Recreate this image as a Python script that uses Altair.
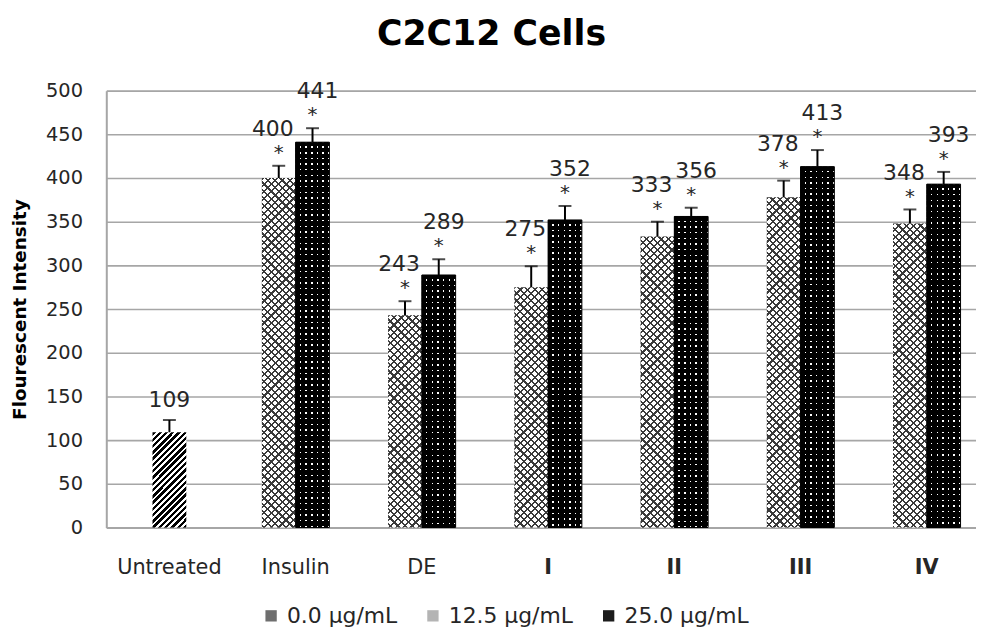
import math
import altair as alt
import pandas as pd

# ---------------- data ----------------
categories = ["Untreated", "Insulin", "DE", "I", "II", "III", "IV"]
series_names = ["0.0 μg/mL", "12.5 μg/mL", "25.0 μg/mL"]
series_colors = ["#6e6e6e", "#b4b4b4", "#1c1c1c"]

untreated_value = [109]
untreated_err = [14]

treated_groups = ["Insulin", "DE", "I", "II", "III", "IV"]
values_12_5 = [400, 243, 275, 333, 378, 348]
errors_12_5 = [14, 16, 24, 17, 19, 16]
values_25_0 = [441, 289, 352, 356, 413, 393]
errors_25_0 = [16, 18, 16, 10, 19, 14]

y_ticks = [0, 50, 100, 150, 200, 250, 300, 350, 400, 450, 500]

# ---------------- layout constants (style only) ----------------
PLOT_W, PLOT_H, X_RANGE = 876, 440, 890
PAD_INNER = 0.465
BAR_W = X_RANGE / len(categories) * (1 - PAD_INNER) / 2
PX_PER_UNIT = PLOT_H / 500


# ---------------- texture helpers (fill gradients) ----------------
def stripe_stops(n_periods, on_frac, c_on, c_off):
    out = []
    for k in range(int(math.ceil(n_periods))):
        s = k / n_periods
        m = min((k + on_frac) / n_periods, 1.0)
        e = min((k + 1) / n_periods, 1.0)
        out += [{"offset": s, "color": c_on}, {"offset": m, "color": c_on},
                {"offset": m, "color": c_off}, {"offset": e, "color": c_off}]
    return out


def diag_gradient(h, period, on_frac, c_on, c_off, rising=True):
    r = h / BAR_W
    s = (1 + r) / (1 + r * r)
    n = (BAR_W + h) / (math.sqrt(2) * period)
    g = {"gradient": "linear", "stops": stripe_stops(n, on_frac, c_on, c_off)}
    if rising:
        g.update(x1=0, y1=0, x2=s, y2=s * r)
    else:
        g.update(x1=1, y1=0, x2=1 - s, y2=s * r)
    return g


def horiz_gradient(h, period, on_frac, c_on, c_off):
    return {"gradient": "linear", "x1": 0, "y1": 0, "x2": 0, "y2": 1,
            "stops": stripe_stops(h / period, on_frac, c_on, c_off)}


CLEAR = "rgba(255,255,255,0)"

# ---------------- tables ----------------
untreated_df = pd.DataFrame({
    "cat": ["Untreated"],
    "series": [series_names[0]],
    "value": untreated_value,
    "err": untreated_err,
})
untreated_df["top"] = untreated_df["value"] + untreated_df["err"]
untreated_df["label"] = untreated_df["value"].astype(str)

records = []
for g, v, e in zip(treated_groups, values_12_5, errors_12_5):
    h = v * PX_PER_UNIT
    records.append({
        "cat": g, "series": series_names[1], "value": v, "err": e, "top": v + e, "label": str(v),
        "g1": diag_gradient(h, 5.2, 0.3, "#3a3a3a", CLEAR, rising=True),
        "g2": diag_gradient(h, 5.2, 0.3, "#3a3a3a", CLEAR, rising=False),
    })
for g, v, e in zip(treated_groups, values_25_0, errors_25_0):
    h = v * PX_PER_UNIT
    records.append({
        "cat": g, "series": series_names[2], "value": v, "err": e, "top": v + e, "label": str(v),
        "g1": horiz_gradient(h, 5.7, 0.74, "#000000", CLEAR),
        "g2": horiz_gradient(h, 5.7, 0.74, "#000000", CLEAR),
    })
treated_data = alt.Data(values=records)

hatch = {"gradient": "linear", "x1": 0, "y1": 0, "x2": 1, "y2": 2.81,
         "stops": stripe_stops(48, 0.55, "#000000", "#ffffff")}
dot_columns = {"gradient": "linear", "x1": 0, "y1": 0, "x2": 1, "y2": 0,
               "stops": stripe_stops(6, 0.74, "#000000", "#ffffff")}

label_font = "DejaVu Sans"
text_color = "#262626"

x_enc = alt.X(
    "cat:N",
    sort=categories,
    scale=alt.Scale(domain=categories, range=[0, X_RANGE], paddingInner=PAD_INNER, paddingOuter=PAD_INNER / 2),
    axis=alt.Axis(
        title=None,
        labelAngle=0,
        ticks=False,
        labelPadding=29,
        labelFont=label_font,
        labelFontSize=21,
        labelColor=text_color,
        labelFontWeight={
            "condition": {"test": "indexof(['I','II','III','IV'], datum.value) >= 0", "value": "bold"},
            "value": "normal",
        },
        domainColor="#a6a6a6",
        domainWidth=2,
        grid=False,
    ),
)
y_enc = alt.Y(
    "value:Q",
    scale=alt.Scale(domain=[0, 500], nice=False),
    axis=alt.Axis(
        values=y_ticks,
        title="Flourescent Intensity",
        titleFont=label_font,
        titleFontSize=18.5,
        titleFontWeight="bold",
        titleColor="#000000",
        titleAngle=270,
        titleX=-87,
        titleY=220,
        titleAlign="center",
        titleBaseline="middle",
        ticks=False,
        labelFont=label_font,
        labelFontSize=19.5,
        labelColor=text_color,
        labelPadding=24,
        grid=True,
        gridColor="#a6a6a6",
        gridWidth=1.6,
        domainColor="#a6a6a6",
        domainWidth=2,
    ),
)
x_off = alt.XOffset("series:N", scale=alt.Scale(domain=series_names[1:], paddingInner=0, paddingOuter=0))

base_u = alt.Chart(untreated_df)
base_t = alt.Chart(treated_data)
is_a = alt.datum.series == series_names[1]
is_b = alt.datum.series == series_names[2]

# bars (flat colours carry the legend, textures drawn on top)
bar_u = base_u.mark_bar(fill=hatch, width=alt.RelativeBandSize(0.5)).encode(x=x_enc, y=y_enc)
bar_t = base_t.mark_bar().encode(
    x=x_enc,
    xOffset=x_off,
    y=y_enc,
    color=alt.Color(
        "series:N",
        scale=alt.Scale(domain=series_names, range=series_colors),
        legend=alt.Legend(
            orient="none",
            legendX=155,
            legendY=518,
            direction="horizontal",
            title=None,
            symbolType="square",
            symbolSize=130,
            symbolStrokeWidth=0,
            labelFont=label_font,
            labelFontSize=22,
            labelColor=text_color,
            labelOffset=5,
            columnPadding=24,
        ),
    ),
)
pos = dict(x=x_enc, xOffset=x_off, y="value:Q")
tex_a0 = base_t.transform_filter(is_a).mark_bar(fill="#ffffff").encode(**pos)
tex_a1 = base_t.transform_filter(is_a).mark_bar().encode(fill=alt.Fill("g1:N", scale=None), **pos)
tex_a2 = base_t.transform_filter(is_a).mark_bar().encode(fill=alt.Fill("g2:N", scale=None), **pos)
tex_b0 = base_t.transform_filter(is_b).mark_bar(fill=dot_columns).encode(**pos)
tex_b1 = base_t.transform_filter(is_b).mark_bar(stroke="#000000", strokeWidth=1).encode(
    fill=alt.Fill("g1:N", scale=None), **pos
)

# error bars
err_u = base_u.mark_rule(color="#000000", strokeWidth=2).encode(x=x_enc, y="value:Q", y2="top:Q")
cap_u = base_u.mark_tick(color="#000000", thickness=2, size=13).encode(x=x_enc, y="top:Q")
err_t = base_t.mark_rule(color="#000000", strokeWidth=2).encode(x=x_enc, xOffset=x_off, y="value:Q", y2="top:Q")
cap_t = base_t.mark_tick(color="#000000", thickness=2, size=13).encode(x=x_enc, xOffset=x_off, y="top:Q")

# stars
stars = base_t.mark_text(text="*", font=label_font, fontSize=20, color=text_color, baseline="middle", dy=-13).encode(
    x=x_enc, xOffset=x_off, y="top:Q"
)

# value labels
lab_u = base_u.mark_text(font=label_font, fontSize=22, baseline="middle", dy=-20, color=text_color).encode(
    x=x_enc, y="top:Q", text="label:N"
)
lab_a = base_t.transform_filter(is_a).mark_text(
    font=label_font, fontSize=22, baseline="middle", dx=-6, dy=-37, color=text_color
).encode(x=x_enc, xOffset=x_off, y="top:Q", text="label:N")
lab_b = base_t.transform_filter(is_b).mark_text(
    font=label_font, fontSize=22, baseline="middle", dx=5, dy=-37, color=text_color
).encode(x=x_enc, xOffset=x_off, y="top:Q", text="label:N")

chart = alt.layer(
    bar_u, bar_t, tex_a0, tex_a1, tex_a2, tex_b0, tex_b1,
    err_u, cap_u, err_t, cap_t, stars, lab_u, lab_a, lab_b
).properties(
    width=PLOT_W,
    height=PLOT_H,
    title=alt.TitleParams(
        "C2C12 Cells",
        font="DejaVu Sans",
        fontSize=35,
        fontWeight="bold",
        color="#000000",
        anchor="middle",
        dx=-50,
        offset=29,
    ),
    padding={"left": 99, "top": 81, "right": 0, "bottom": 99},
    autosize=alt.AutoSizeParams(type="none"),
).configure_view(stroke=None).configure(background="#ffffff")

chart.save("out.html", embed_options={"renderer": "svg", "actions": False})
